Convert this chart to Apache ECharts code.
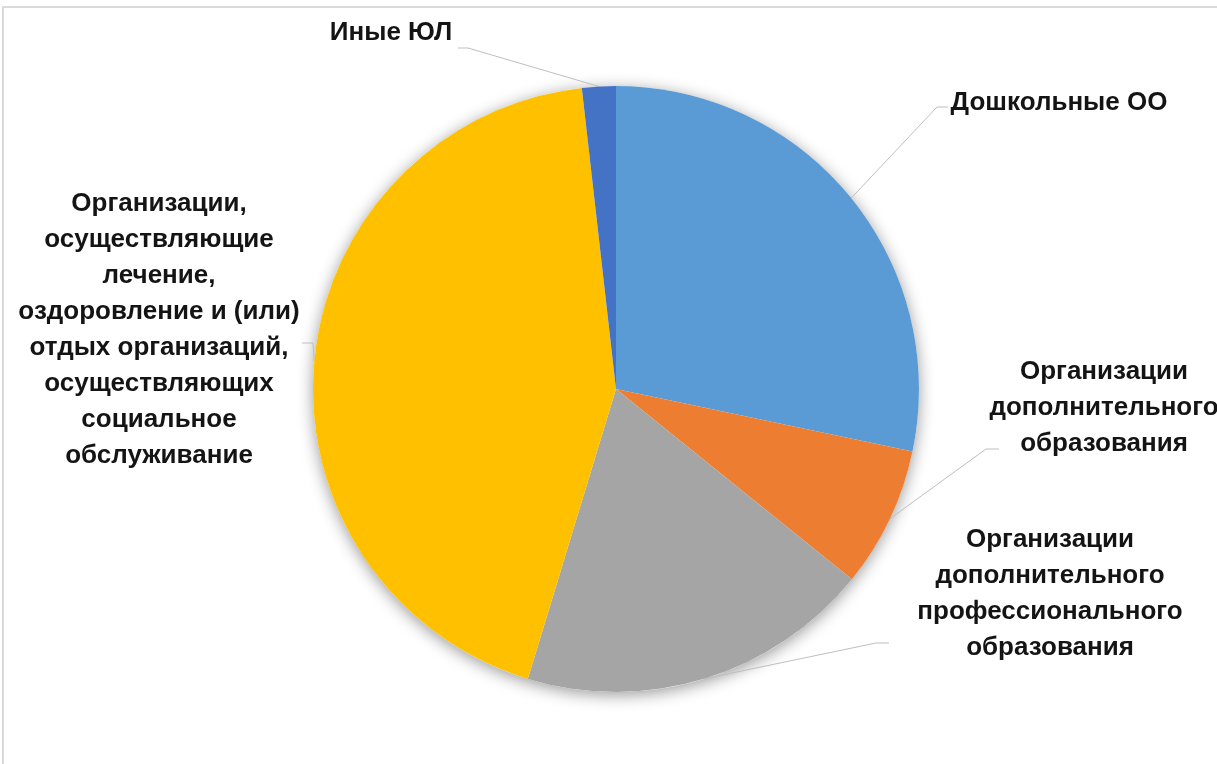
<!DOCTYPE html>
<html>
<head>
<meta charset="utf-8">
<script src="https://cdn.jsdelivr.net/npm/echarts@6/dist/echarts.min.js"></script>
<style>
html,body{margin:0;padding:0;background:#fff;}
#chart{width:1217px;height:764px;}
</style>
</head>
<body>
<div id="chart"></div>
<script>
var categories = [
  'Дошкольные ОО',
  'Организации дополнительного образования',
  'Организации дополнительного профессионального образования',
  'Организации, осуществляющие лечение, оздоровление и (или) отдых организаций, осуществляющих социальное обслуживание',
  'Иные ЮЛ'
];
var values = [28.3, 7.5, 18.9, 43.5, 1.8];
var labelTexts = [
  'Дошкольные ОО',
  'Организации\nдополнительного\nобразования',
  'Организации\nдополнительного\nпрофессионального\nобразования',
  'Организации,\nосуществляющие\nлечение,\nоздоровление и (или)\nотдых организаций,\nосуществляющих\nсоциальное\nобслуживание',
  'Иные ЮЛ'
];
var colors = ['#5B9BD5', '#ED7D31', '#A5A5A5', '#FFC000', '#4472C4'];

// label placement (layout only)
var labelPlace = [
  {x: 1059, y: 103, line: [[937, 107], [948, 107]]},
  {x: 1104, y: 408, line: [[986, 449], [999, 449]]},
  {x: 1050, y: 594, line: [[876, 643], [889, 643]]},
  {x: 159, y: 330, line: [[313, 343], [302, 343]]},
  {x: 391, y: 33, line: [[468, 48], [458, 48]]}
];

var chart = echarts.init(document.getElementById('chart'), null, {renderer: 'canvas'});
var data = categories.map(function (c, i) {
  return {name: c, value: values[i], itemStyle: {color: colors[i]}};
});

chart.setOption({
  backgroundColor: '#ffffff',
  animation: false,
  graphic: [{
    type: 'rect',
    shape: {x: 3, y: 7, width: 1400, height: 900},
    style: {fill: 'none', stroke: '#d9d9d9', lineWidth: 2},
    silent: true,
    z: -10
  }],
  series: [
    {
      type: 'pie',
      silent: true,
      center: [616, 389],
      radius: 303,
      z: 1,
      label: {show: false},
      labelLine: {show: false},
      itemStyle: {color: '#ffffff', shadowBlur: 16, shadowColor: 'rgba(0,0,0,0.4)', shadowOffsetY: 3},
      data: [{value: 1, name: ''}]
    },
    {
      type: 'pie',
      center: [616, 389],
      radius: 303,
      startAngle: 90,
      clockwise: true,
      z: 2,
      avoidLabelOverlap: false,
      data: data,
      itemStyle: {borderWidth: 0},
      label: {
        show: true,
        position: 'outside',
        formatter: function (p) { return labelTexts[p.dataIndex]; },
        fontFamily: '"Liberation Sans", Arial, sans-serif',
        fontWeight: 'bold',
        fontSize: 26,
        lineHeight: 36,
        color: '#141414',
        align: 'center'
      },
      labelLine: {show: true, lineStyle: {color: '#bfbfbf', width: 1}},
      labelLayout: function (params) {
        var lp = labelPlace[params.dataIndex];
        var start = params.labelLinePoints ? params.labelLinePoints[0] : lp.line[0];
        return {
          x: lp.x,
          y: lp.y,
          align: 'center',
          verticalAlign: 'middle',
          labelLinePoints: [start, lp.line[0], lp.line[1]]
        };
      }
    }
  ]
});
</script>
</body>
</html>
